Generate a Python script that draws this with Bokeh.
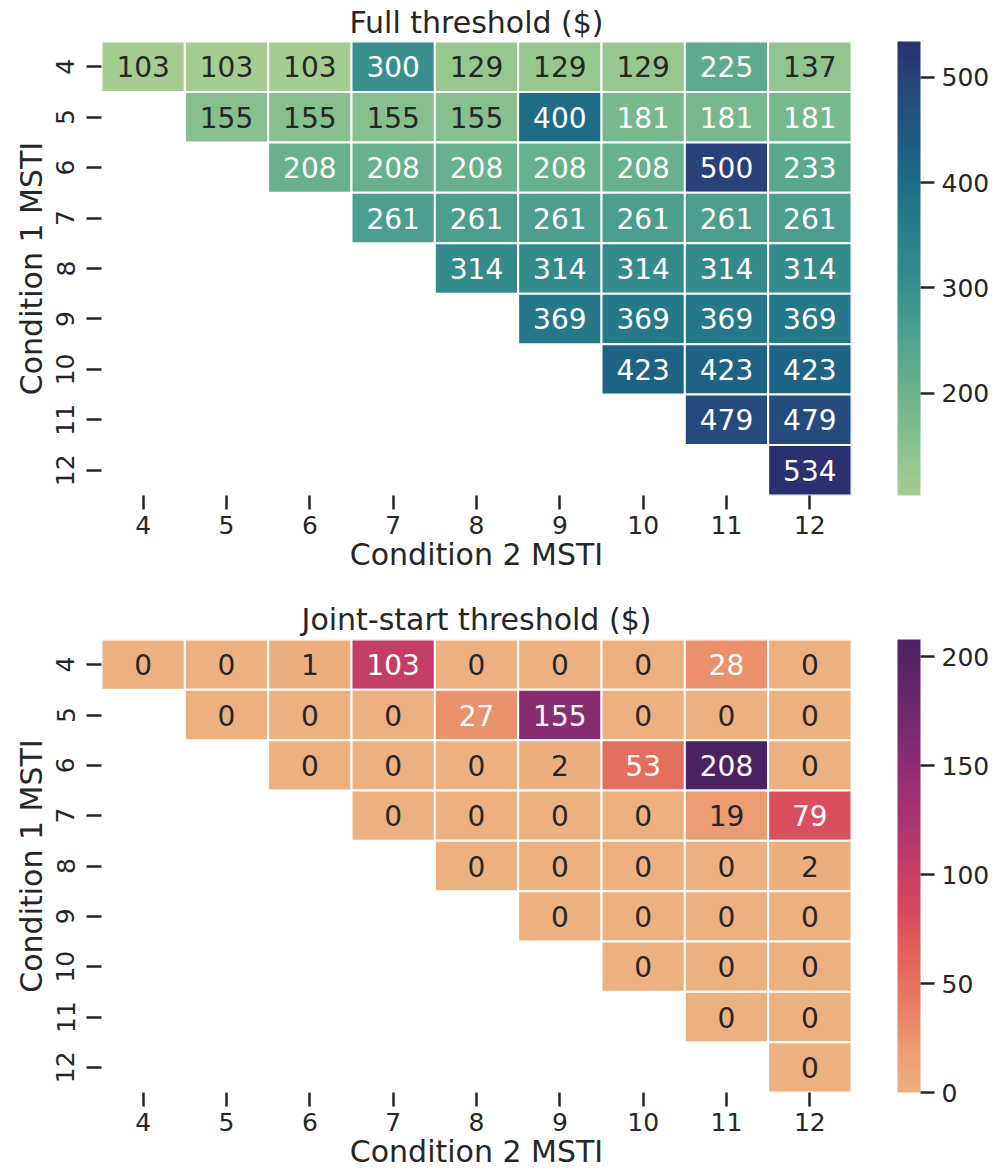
import numpy as np
from bokeh.plotting import figure
from bokeh.models import (ColumnDataSource, LinearColorMapper, ColorBar, FixedTicker, Range1d)
from bokeh.layouts import column
from bokeh.embed import file_html
from bokeh.resources import INLINE
from bokeh.core.properties import value

# ---------------- data ----------------
msti = [4, 5, 6, 7, 8, 9, 10, 11, 12]
tick_labels = ["4", "5", "6", "7", "8", "9", "10", "11", "12"]

# upper-triangular rows: row r (Condition 1 MSTI) holds columns r..12 (Condition 2 MSTI)
full_threshold = [
    [103, 103, 103, 300, 129, 129, 129, 225, 137],
    [155, 155, 155, 155, 400, 181, 181, 181],
    [208, 208, 208, 208, 208, 500, 233],
    [261, 261, 261, 261, 261, 261],
    [314, 314, 314, 314, 314],
    [369, 369, 369, 369],
    [423, 423, 423],
    [479, 479],
    [534],
]
joint_start_threshold = [
    [0, 0, 1, 103, 0, 0, 0, 28, 0],
    [0, 0, 0, 27, 155, 0, 0, 0],
    [0, 0, 0, 2, 53, 208, 0],
    [0, 0, 0, 0, 19, 79],
    [0, 0, 0, 0, 2],
    [0, 0, 0, 0],
    [0, 0, 0],
    [0, 0],
    [0],
]
full_cbar_ticks = [200, 300, 400, 500]
joint_cbar_ticks = [0, 50, 100, 150, 200]

# ---------------- colours ----------------
crest_stops = [(0.00, "#a5cd90"), (0.10, "#8bc28e"), (0.20, "#72b68e"), (0.30, "#5aa88e"),
               (0.40, "#44998e"), (0.50, "#338a8c"), (0.60, "#267b8a"), (0.70, "#1e6a86"),
               (0.80, "#205a82"), (0.90, "#27467c"), (1.00, "#2c2f70")]
flare_stops = [(0.00, "#edb081"), (0.10, "#eb9a71"), (0.20, "#e77b62"), (0.30, "#e26359"),
               (0.40, "#d84a5f"), (0.50, "#c23c66"), (0.60, "#aa3470"), (0.70, "#963073"),
               (0.80, "#7a2a70"), (0.90, "#622669"), (1.00, "#4b2362")]


def make_palette(stops, n=256):
    pos = np.array([s[0] for s in stops])
    rgb = np.array([[int(h[i:i + 2], 16) for i in (1, 3, 5)] for _, h in stops], dtype=float)
    t = np.linspace(0, 1, n)
    out = []
    for tt in t:
        c = [np.interp(tt, pos, rgb[:, k]) for k in range(3)]
        out.append("#%02x%02x%02x" % tuple(int(round(v)) for v in c))
    return out


FONT = "DejaVu Sans"
TXT = "#262626"


def panel(title, rows, stops, ticks, dark_cut, border_top, title_standoff, border_bottom, frame_h):
    xs, ys, vals, labels = [], [], [], []
    for i, row in enumerate(rows):
        r = msti[i]
        for j, v in enumerate(row):
            xs.append(msti[i + j])
            ys.append(r)
            vals.append(v)
            labels.append(str(v))
    low, high = min(vals), max(vals)
    pal = make_palette(stops)
    mapper = LinearColorMapper(palette=pal, low=low, high=high)
    tcol = [TXT if v < dark_cut else "white" for v in vals]
    src = ColumnDataSource(dict(x=xs, y=ys, v=vals, t=labels, tc=tcol))

    p = figure(frame_width=750, frame_height=frame_h,
               x_range=Range1d(3.5, 12.5), y_range=Range1d(12.5, 3.5),
               output_backend="svg", toolbar_location=None,
               min_border_left=101, min_border_right=140,
               min_border_top=border_top, min_border_bottom=border_bottom,
               title=title)
    p.title.text_font = FONT
    p.title.text_font_size = "30px"
    p.title.text_font_style = "normal"
    p.title.text_color = TXT
    p.title.align = "center"
    p.title.standoff = title_standoff
    p.outline_line_color = None
    p.grid.visible = False

    p.rect(x="x", y="y", width=1, height=1, source=src,
           fill_color={"field": "v", "transform": mapper},
           line_color="white", line_width=2)
    p.text(x="x", y="y", text="t", source=src, text_color="tc",
           text_align="center", text_baseline="middle",
           text_font=value(FONT), text_font_size="28px")

    for ax in (p.xaxis[0], p.yaxis[0]):
        ax.ticker = FixedTicker(ticks=msti)
        ax.major_label_overrides = {m: s for m, s in zip(msti, tick_labels)}
        ax.axis_line_color = None
        ax.major_tick_in = 0
        ax.minor_tick_line_color = None
        ax.major_tick_line_color = TXT
        ax.major_tick_line_width = 2.5
        ax.major_label_text_font = FONT
        ax.major_label_text_font_size = "25px"
        ax.major_label_text_color = TXT
        ax.axis_label_text_font = FONT
        ax.axis_label_text_font_size = "30px"
        ax.axis_label_text_font_style = "normal"
        ax.axis_label_text_color = TXT
    p.xaxis.major_tick_out = 14
    p.xaxis.major_label_standoff = 6
    p.xaxis.axis_label = "Condition 2 MSTI"
    p.xaxis.axis_label_standoff = 0
    p.yaxis.major_tick_out = 15
    p.yaxis.major_label_standoff = 12
    p.yaxis.major_label_orientation = "parallel"
    p.yaxis.axis_label = "Condition 1 MSTI"
    p.yaxis.axis_label_standoff = 5

    cb = ColorBar(color_mapper=mapper, ticker=FixedTicker(ticks=ticks),
                  width=23, height=frame_h, location=(46, 0), padding=0, margin=0,
                  major_tick_out=14, major_tick_in=0, major_tick_line_color=TXT,
                  major_tick_line_width=2.5, minor_tick_line_color=None,
                  major_label_text_font=FONT, major_label_text_font_size="25px",
                  major_label_text_color=TXT, label_standoff=7,
                  bar_line_color=None, border_line_color=None,
                  background_fill_color=None)
    p.add_layout(cb, "right")
    return p


p1 = panel("Full threshold ($)", full_threshold, crest_stops, full_cbar_ticks, 170,
           41, 3, 102, 454)
p2 = panel("Joint-start threshold ($)", joint_start_threshold, flare_stops, joint_cbar_ticks, 25,
           41, 5, 84, 453)

layout = column(p1, p2, spacing=0)
open("out.html", "w").write(file_html(layout, INLINE))
